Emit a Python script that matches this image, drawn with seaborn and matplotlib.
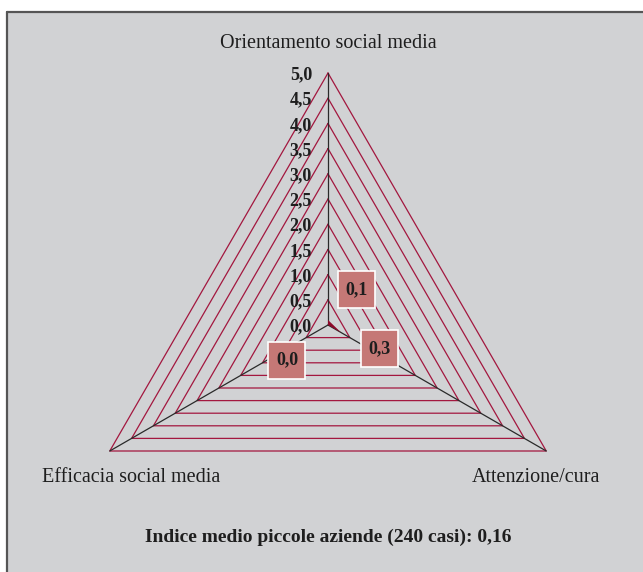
import numpy as np
import pandas as pd
import matplotlib
matplotlib.use("Agg")
import matplotlib.pyplot as plt
from matplotlib.patches import Rectangle
import seaborn as sns

# ---- data ----
categories = ["Orientamento social media", "Attenzione/cura", "Efficacia social media"]
values = [0.1, 0.3, 0.0]
value_labels = ["0,1", "0,3", "0,0"]
tick_values = [0.0, 0.5, 1.0, 1.5, 2.0, 2.5, 3.0, 3.5, 4.0, 4.5, 5.0]
tick_labels = ["0,0", "0,5", "1,0", "1,5", "2,0", "2,5", "3,0", "3,5", "4,0", "4,5", "5,0"]
footer = "Indice medio piccole aziende (240 casi): 0,16"

# ---- style ----
sns.set_style("white")
plt.rcParams["font.family"] = ["Liberation Serif", "DejaVu Serif"]

W, H, DPI = 643, 572, 100
BG = "#d1d2d4"
RING = "#a3173f"
AXIS = "#2a2a2a"
FILL = "#8c0a2a"
BOX = "#c57876"
TXT = "#1e1e1e"

cx_px, cy_px = 328, 325      # chart centre in pixels
unit = 252 / 5.0             # pixels per unit value

fig = plt.figure(figsize=(W / DPI, H / DPI), dpi=DPI)
fig.patch.set_facecolor("white")
# gray panel with dark top/left border
fig.add_artist(Rectangle((7 / W, 0), 1 - 7 / W, 1 - 12 / H, transform=fig.transFigure,
                         facecolor=BG, edgecolor="none", zorder=-5))
fig.add_artist(plt.Line2D([7 / W, 1], [1 - 12 / H, 1 - 12 / H], transform=fig.transFigure,
                          color="#555555", lw=1.6, zorder=-4))
fig.add_artist(plt.Line2D([7 / W, 7 / W], [0, 1 - 12 / H], transform=fig.transFigure,
                          color="#555555", lw=1.6, zorder=-4))

ax = fig.add_axes([0, 0, 1, 1])
ax.set_zorder(1)
ax.set_facecolor("none")
ax.patch.set_alpha(0)
ax.set_xlim(-cx_px / unit, (W - cx_px) / unit)
ax.set_ylim(-(H - cy_px) / unit, cy_px / unit)
ax.axis("off")

angles = np.deg2rad([90, -30, 210])
ca, sa = np.cos(angles), np.sin(angles)

# rings
for r in tick_values[1:]:
    ring = pd.DataFrame({"x": np.append(r * ca, r * ca[0]), "y": np.append(r * sa, r * sa[0])})
    sns.lineplot(data=ring, x="x", y="y", sort=False, estimator=None, color=RING,
                 lw=0.9, ax=ax, zorder=2)

# axes spokes
rmax = tick_values[-1]
for c, s in zip(ca, sa):
    ax.plot([0, rmax * c], [0, rmax * s], color=AXIS, lw=0.9, zorder=3)

# data polygon
v = np.array(values)
ax.fill(v * ca, v * sa, color=FILL, zorder=4, lw=0)

# tick labels along top axis
for t, lab in zip(tick_values, tick_labels):
    ax.text(-16 / unit, t - 2 / unit, lab, ha="right", va="center", fontsize=13,
            fontweight="bold", color=TXT, zorder=5)

# category labels
ax.text(0, (cy_px - 43) / unit, categories[0], ha="center", va="center", fontsize=14.5, color=TXT)
ax.text((131 - cx_px) / unit, -(478 - cy_px) / unit, categories[2], ha="center", va="center",
        fontsize=14.5, color=TXT)
ax.text((536 - cx_px) / unit, -(478 - cy_px) / unit, categories[1], ha="center", va="center",
        fontsize=14.5, color=TXT)
ax.text(0, -(537 - cy_px) / unit, footer, ha="center", va="center", fontsize=14,
        fontweight="bold", color=TXT)

# value label boxes (offsets in pixels from the data point, y down)
label_offsets_px = [(29, -30), (38, 16), (-41, 35)]
box = 37 / unit
for val, lab, c, s, (dx, dy) in zip(values, value_labels, ca, sa, label_offsets_px):
    bx = val * c + dx / unit
    by = val * s - dy / unit
    ax.add_patch(Rectangle((bx - box / 2, by - box / 2), box, box, facecolor=BOX,
                           edgecolor="white", lw=1.2, zorder=6))
    ax.text(bx, by, lab, ha="center", va="center", fontsize=13, fontweight="bold",
            color=TXT, zorder=7)

fig.savefig("out.png", dpi=DPI, facecolor="white")
